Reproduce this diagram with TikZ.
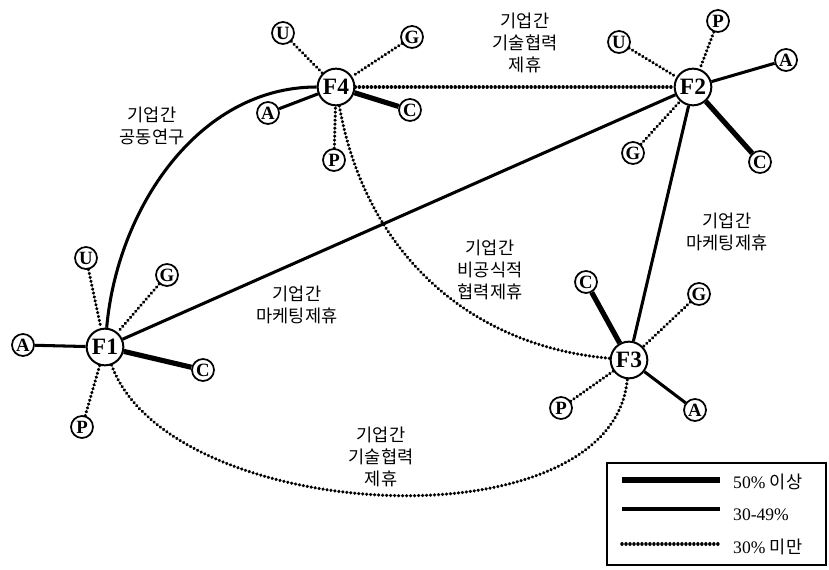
\documentclass[tikz,border=0pt]{standalone}
\usepackage{fontspec}
\setmainfont{Liberation Serif}
\newfontfamily\kr{Noto Sans CJK KR}
\usepackage{tikz}
\tikzset{
  firm/.style={circle,draw,line width=1.7pt,minimum size=1.1cm,inner sep=0pt,font=\bfseries\fontsize{20}{20}\selectfont},
  sat/.style={circle,draw,line width=1.5pt,minimum size=0.66cm,inner sep=0pt,font=\bfseries\fontsize{16}{16}\selectfont},
  strong/.style={line width=4.4pt},
  mid/.style={line width=2.6pt},
  weak/.style={line width=3pt,line cap=round,dash pattern=on 0.01pt off 3.4pt},
  lab/.style={font=\kr\fontsize{15}{19}\selectfont,align=center,inner sep=0pt},
  legtxt/.style={anchor=west,inner sep=0pt,font=\fontsize{15}{15}\selectfont}
}

\begin{document}
\begin{tikzpicture}[x=0.03cm,y=-0.03cm]
\useasboundingbox (0,0) rectangle (829,570);
% firms
\node[firm](F1) at (105,347){F1};
\node[firm](F4) at (336,87){F4};
\node[firm](F2) at (693,87){F2};
\node[firm](F3) at (629,360){F3};
% F1 partners
\node[sat](F1A) at (23,345){A};\draw[mid](F1A)--(F1);
\node[sat](F1U) at (86,258){U};\draw[weak](F1U)--(F1);
\node[sat](F1G) at (167,275){G};\draw[weak](F1G)--(F1);
\node[sat](F1C) at (203,370){C};\draw[strong](F1C)--(F1);
\node[sat](F1P) at (82,427){P};\draw[weak](F1P)--(F1);
% F4 partners
\node[sat](F4U) at (283,33){U};\draw[weak](F4U)--(F4);
\node[sat](F4G) at (412,37){G};\draw[weak](F4G)--(F4);
\node[sat](F4A) at (268,113){A};\draw[mid](F4A)--(F4);
\node[sat](F4C) at (410,110){C};\draw[strong](F4C)--(F4);
\node[sat](F4P) at (334,160){P};\draw[weak](F4P)--(F4);
% F2 partners
\node[sat](F2U) at (619,42){U};\draw[weak](F2U)--(F2);
\node[sat](F2P) at (718,21){P};\draw[weak](F2P)--(F2);
\node[sat](F2A) at (786,60){A};\draw[mid](F2A)--(F2);
\node[sat](F2G) at (633,153){G};\draw[weak](F2G)--(F2);
\node[sat](F2C) at (760,162){C};\draw[strong](F2C)--(F2);
% F3 partners
\node[sat](F3C) at (586,282){C};\draw[strong](F3C)--(F3);
\node[sat](F3G) at (699,294){G};\draw[weak](F3G)--(F3);
\node[sat](F3P) at (561,408){P};\draw[weak](F3P)--(F3);
\node[sat](F3A) at (695,410){A};\draw[mid](F3A)--(F3);
% ties between firms
\draw[mid](F1) to[out=85,in=180,looseness=0.95] (F4);
\draw[weak](F4)--(F2);
\draw[mid](F1)--(F2);
\draw[mid](F2)--(F3);
\draw[weak](F4) to[out=-80,in=175] (F3);
\draw[weak](F1) to[out=-70,in=-95,looseness=0.84] (F3);
% labels
\node[lab](t14) at (152,126){기업간\\공동연구};
\node[lab](t42) at (525,43){기업간\\기술협력\\제휴};
\node[lab](t12) at (297,305){기업간\\마케팅제휴};
\node[lab](t23) at (727,232){기업간\\마케팅제휴};
\node[lab](t43) at (490,270){기업간\\비공식적\\협력제휴};
\node[lab](t13) at (381,457){기업간\\기술협력\\제휴};
% legend
\draw[line width=1.4pt](607,463) rectangle (826,565);
\node[legtxt](k1) at (733,482){50\% {\kr 이상}};
\node[legtxt](k2) at (733,515){30-49\%};
\node[legtxt](k3) at (733,547){30\% {\kr 미만}};
\coordinate (s1) at (622,480);\coordinate (s2) at (622,509);\coordinate (s3) at (622,544);
\draw[strong](s1)--++(98,0);
\draw[mid](s2)--++(98,0);
\draw[weak](s3)--++(98,0);
\end{tikzpicture}
\end{document}
